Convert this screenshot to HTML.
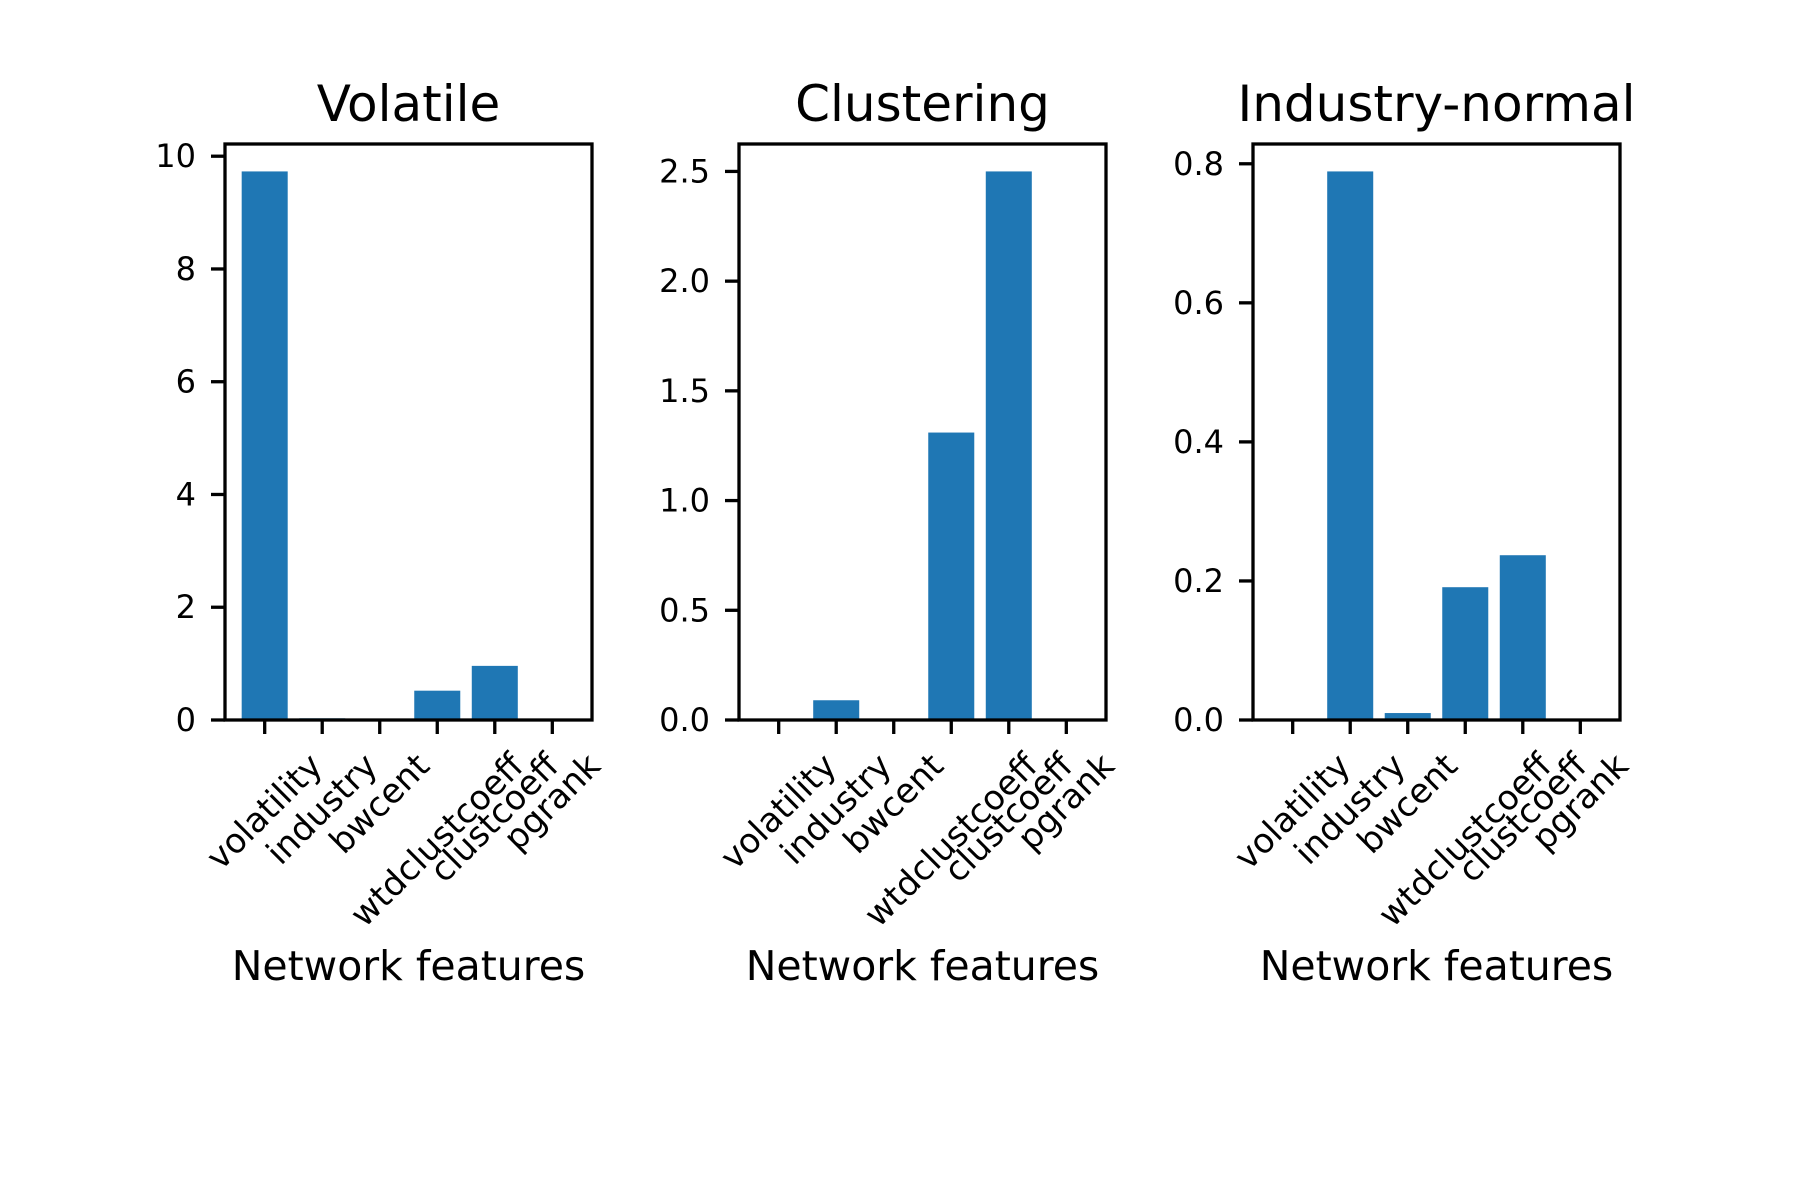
<!DOCTYPE html>
<html><head><meta charset="utf-8"><style>
html,body{margin:0;padding:0;background:#fff;}
svg{display:block;font-family:"DejaVu Sans","Liberation Sans",sans-serif;}
</style></head><body>
<svg id="fig" width="1800" height="1200" viewBox="0 0 1800 1200">
<rect width="1800" height="1200" fill="#fff"/>
</svg>
<script>
const categories = ["volatility","industry","bwcent","wtdclustcoeff","clustcoeff","pgrank"];
const titles = ["Volatile","Clustering","Industry-normal"];
const volatileValues = [9.73, 0.03, 0.0, 0.52, 0.96, 0.0];
const clusteringValues = [0.0, 0.09, 0.0, 1.31, 2.5, 0.005];
const industryValues = [0.0, 0.789, 0.01, 0.191, 0.237, 0.0];
const volatileTicks = ["0","2","4","6","8","10"];
const clusteringTicks = ["0.0","0.5","1.0","1.5","2.0","2.5"];
const industryTicks = ["0.0","0.2","0.4","0.6","0.8"];

const svgEl = document.getElementById('fig');
const NS = 'http://www.w3.org/2000/svg';
function mk(tag, attrs){const e=document.createElementNS(NS,tag);for(const k in attrs)e.setAttribute(k,attrs[k]);return e;}

const panels = [
  {title:titles[0], vals:volatileValues, ticks:volatileTicks, x0:225, x1:592, key:'volatile'},
  {title:titles[1], vals:clusteringValues, ticks:clusteringTicks, x0:739, x1:1106, key:'clustering'},
  {title:titles[2], vals:industryValues, ticks:industryTicks, x0:1253, x1:1620, key:'industry-normal'}
];
const axTop=144, axBottom=720, TL=14, LW=3.3;

panels.forEach(p=>{
  const g = mk('g',{});
  
  
  svgEl.appendChild(g);
  const ymax = Math.max(...p.vals)*1.05;
  const y = v => axBottom - v/ymax*(axBottom-axTop);
  const xmin=-0.69, xmax=5.69;
  const x = v => p.x0 + (v-xmin)/(xmax-xmin)*(p.x1-p.x0);
  p.vals.forEach((v,i)=>{
    const r = mk('rect',{x:x(i-0.4), y:y(v), width:x(i+0.4)-x(i-0.4), height:axBottom-y(v), fill:'#1f77b4'});
    
    
    g.appendChild(r);
  });
  const fr = mk('rect',{x:p.x0,y:axTop,width:p.x1-p.x0,height:axBottom-axTop,fill:'none',stroke:'#000','stroke-width':LW});
  
  
  g.appendChild(fr);
  p.ticks.forEach(t=>{
    const yy = y(parseFloat(t));
    g.appendChild(mk('line',{x1:p.x0-TL,x2:p.x0,y1:yy,y2:yy,stroke:'#000','stroke-width':LW}));
    const tx = mk('text',{x:p.x0-TL-15,y:yy+11,'text-anchor':'end','font-size':32,fill:'#000'});
    tx.textContent=t;
    
    
    g.appendChild(tx);
  });
  categories.forEach((c,i)=>{
    const xx = x(i);
    g.appendChild(mk('line',{x1:xx,x2:xx,y1:axBottom,y2:axBottom+TL,stroke:'#000','stroke-width':LW}));
    const tx = mk('text',{'font-size':34,'text-anchor':'middle','dominant-baseline':'central',fill:'#000'});
    tx.textContent=c;
    
    
    g.appendChild(tx);
    let W = c.length*20;
    try { const w = tx.getComputedTextLength(); if (w>0) W = w; } catch(e) {}
    const H = 40;
    const half = (W+H)*0.7071/2;
    const cy = axBottom + TL + 12 + half;
    tx.setAttribute('x', xx); tx.setAttribute('y', cy);
    tx.setAttribute('transform', `rotate(-45 ${xx} ${cy})`);
  });
  const cx = (p.x0+p.x1)/2;
  const tt = mk('text',{x:cx,y:121,'text-anchor':'middle','font-size':50,fill:'#000'});
  tt.textContent=p.title;
  
  
  g.appendChild(tt);
  const xl = mk('text',{x:cx,y:980,'text-anchor':'middle','font-size':41,fill:'#000'});
  xl.textContent='Network features';
  
  
  g.appendChild(xl);
});
</script>
</body></html>
